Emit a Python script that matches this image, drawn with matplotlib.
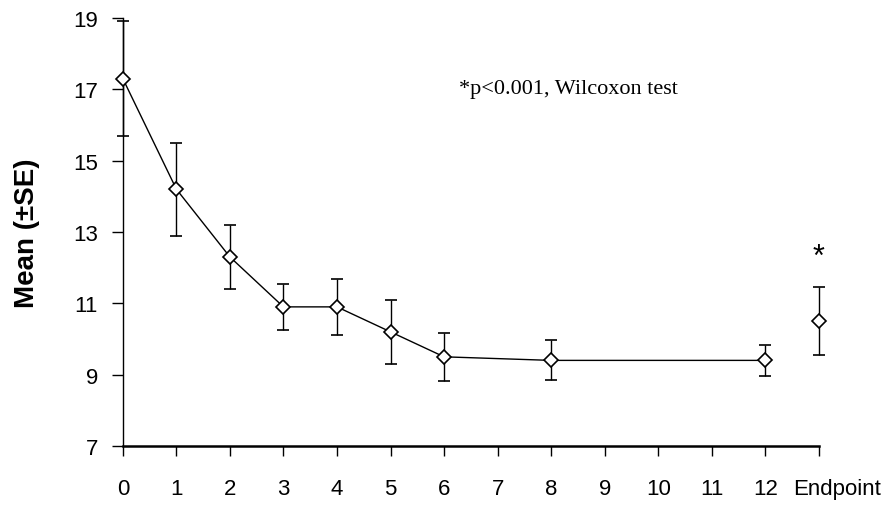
import numpy as np
import matplotlib.pyplot as plt
from matplotlib.transforms import ScaledTranslation

# weeks on the x axis (Endpoint sits after week 12)
tick_labels = ['0', '1', '2', '3', '4', '5', '6', '7', '8', '9', '10', '11', '12', 'Endpoint']
weeks = [0, 1, 2, 3, 4, 5, 6, 8, 12]
means = [17.3, 14.2, 12.3, 10.9, 10.9, 10.2, 9.5, 9.4, 9.4]
se = [1.6, 1.3, 0.9, 0.65, 0.78, 0.9, 0.67, 0.56, 0.43]

endpoint_mean = 10.5
endpoint_se = 0.96

plt.rcParams['font.family'] = ['Liberation Sans', 'DejaVu Sans']

fig = plt.figure(figsize=(8.9, 5.06), dpi=100)
ax = fig.add_axes([0.138, 0.1166, 0.782, 0.846])

ax.errorbar(weeks, means, yerr=se, color='black', lw=1, ecolor='black', elinewidth=1,
            capsize=4, capthick=1, marker='D', markersize=7.5, mfc='white', mec='black',
            mew=1.2, clip_on=False, zorder=3)
ax.errorbar([13], [endpoint_mean], yerr=[endpoint_se], color='black', lw=0, ecolor='black',
            elinewidth=1, capsize=4, capthick=1, marker='D', markersize=7.5, mfc='white',
            mec='black', mew=1.2, clip_on=False, zorder=3)

ax.text(13, 12.3, '*', ha='center', va='center', fontsize=22)
ax.text(0.64, 0.835, '*p<0.001, Wilcoxon test', transform=ax.transAxes, ha='center',
        va='center', fontsize=16, family=['Liberation Serif', 'DejaVu Serif'])

ax.set_xlim(0, 13)
ax.set_ylim(7, 19)
ax.set_xticks(range(14))
ax.set_xticklabels(tick_labels)
ax.set_yticks([7, 9, 11, 13, 15, 17, 19])

ax.tick_params(axis='y', labelsize=16, length=8, width=1, direction='out', pad=10)
ax.tick_params(axis='x', labelsize=16, length=7, width=1, direction='out', pad=16)
# Endpoint label sits a little to the right of its tick
end_lab = ax.get_xticklabels()[-1]
end_lab.set_transform(end_lab.get_transform() + ScaledTranslation(0.18, 0, fig.dpi_scale_trans))

ax.spines['top'].set_visible(False)
ax.spines['right'].set_visible(False)
ax.spines['left'].set_linewidth(1)
ax.spines['bottom'].set_linewidth(1.8)

ax.set_ylabel('Mean (\u00b1SE)', fontsize=20, fontweight='bold', labelpad=24)

fig.savefig('out.png', dpi=100)
